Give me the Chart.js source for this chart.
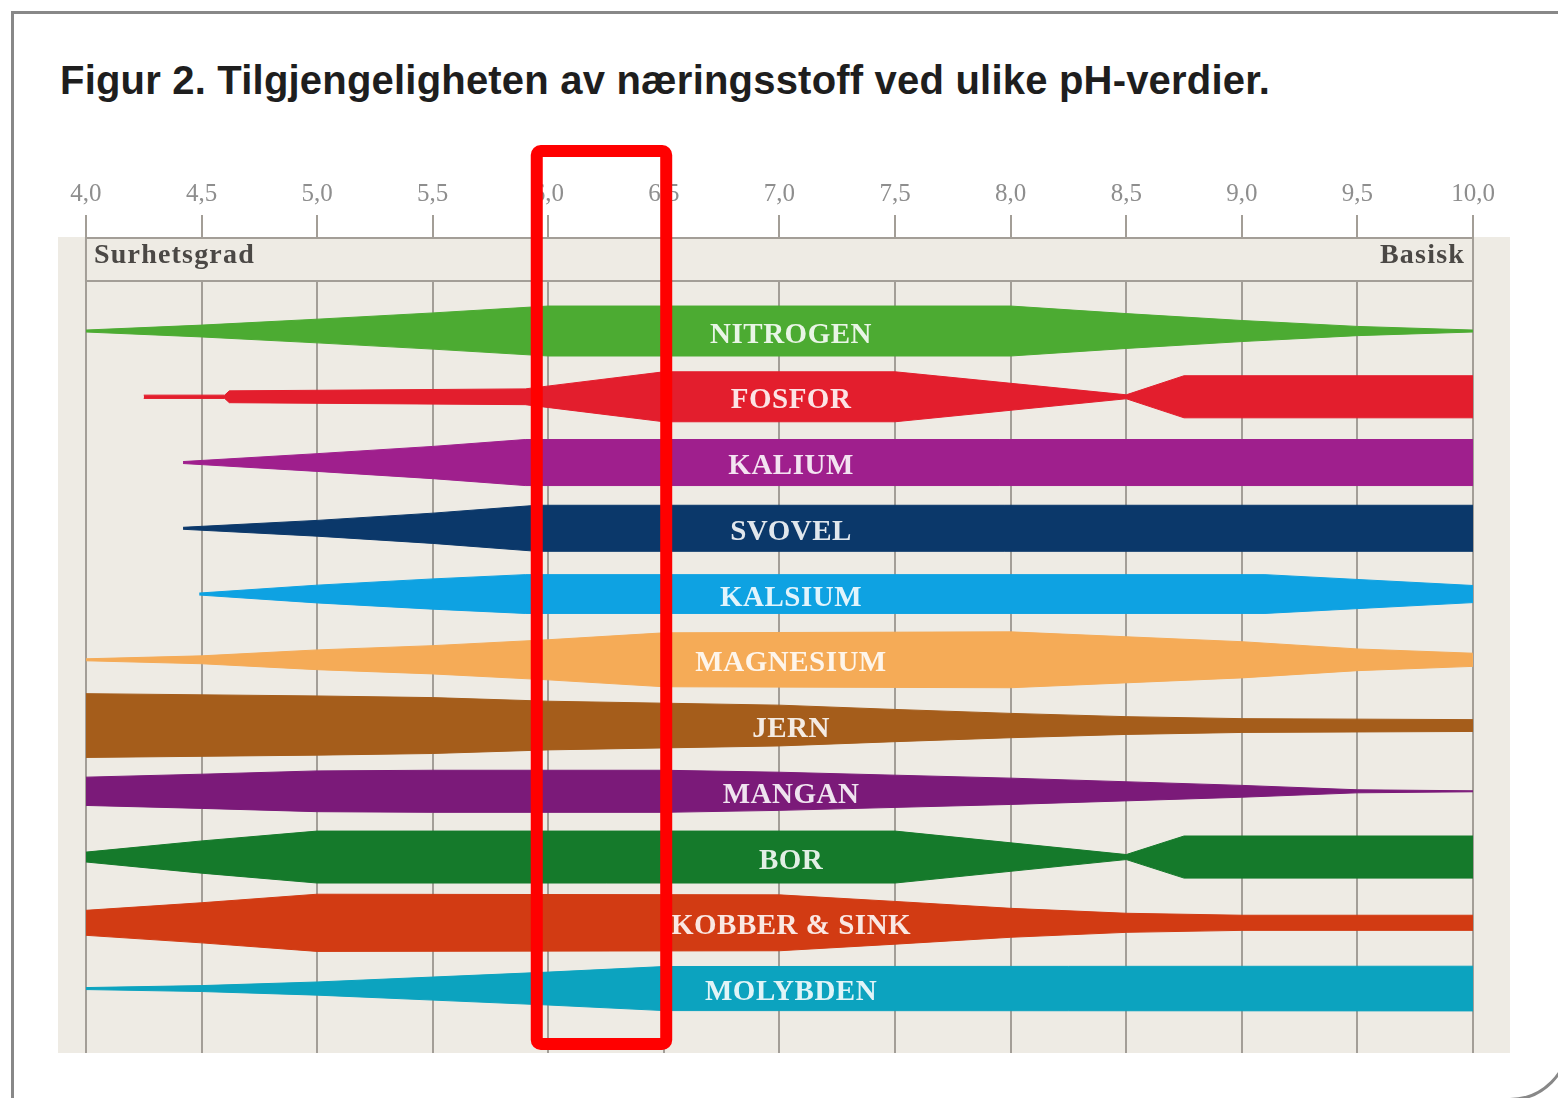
<!DOCTYPE html>
<html lang="no">
<head>
<meta charset="utf-8">
<title>Figur 2 – næringsstoff og pH</title>
<script src="https://cdn.jsdelivr.net/npm/chart.js@4.4.1/dist/chart.umd.min.js"></script>
<style>
  html, body { margin: 0; padding: 0; background: #fff; }
  body { width: 1558px; height: 1098px; position: relative; overflow: hidden; }
  .frame {
    position: absolute; left: 11px; top: 11px; width: 1559px; height: 1090px;
    box-sizing: border-box; border: 3px solid #888; border-radius: 0 0 60px 0;
  }
  .title {
    position: absolute; left: 60px; top: 60px; margin: 0; letter-spacing: 0.2px;
    font: bold 40px/40px 'Liberation Sans', Arial, sans-serif; color: #1e1e1e; white-space: nowrap;
  }
  .chart-box { position: absolute; left: 0; top: 0; width: 1558px; height: 1098px; }
</style>
</head>
<body>
<div class="frame"></div>
<h1 class="title">Figur 2. Tilgjengeligheten av næringsstoff ved ulike pH-verdier.</h1>
<div class="chart-box"><canvas id="phChart"></canvas></div>
<script>
// pH-akse
const phTicks = [4.0, 4.5, 5.0, 5.5, 6.0, 6.5, 7.0, 7.5, 8.0, 8.5, 9.0, 9.5, 10.0];

// næringsstoff, fra topp til bunn
const nutrientNames = ['NITROGEN', 'FOSFOR', 'KALIUM', 'SVOVEL', 'KALSIUM', 'MAGNESIUM',
  'JERN', 'MANGAN', 'BOR', 'KOBBER & SINK', 'MOLYBDEN'];
const nutrientColors = ['#4cab32', '#e31e2d', '#9f1f8d', '#0b386a', '#0ea2e2', '#f5ab57',
  '#a55d1b', '#7b1a79', '#157a2b', '#d23b13', '#0ca3bf'];

// [pH, bredde på båndet] – bredde i radenheter (1 = avstand mellom radene)
const nitrogen   = [[4.0, 0.03], [4.5, 0.18], [5.0, 0.36], [5.5, 0.55], [6.0, 0.76], [8.0, 0.76], [8.5, 0.53], [9.0, 0.32], [9.5, 0.14], [10.0, 0.03]];
const fosfor     = [[4.25, 0.05], [4.6, 0.05], [4.62, 0.18], [5.9, 0.24], [6.5, 0.76], [7.5, 0.76], [8.5, 0.06], [8.75, 0.64], [10.0, 0.64]];
const kalium     = [[4.42, 0.03], [5.0, 0.27], [5.5, 0.49], [5.9, 0.70], [10.0, 0.70]];
const svovel     = [[4.42, 0.03], [5.0, 0.24], [5.5, 0.46], [5.95, 0.70], [10.0, 0.70]];
const kalsium    = [[4.49, 0.03], [5.0, 0.27], [5.5, 0.46], [5.9, 0.59], [9.1, 0.59], [10.0, 0.26]];
const magnesium  = [[4.0, 0.03], [4.5, 0.12], [5.0, 0.30], [5.5, 0.43], [6.0, 0.61], [6.5, 0.82], [8.0, 0.85], [9.0, 0.55], [9.5, 0.33], [10.0, 0.20]];
const jern       = [[4.0, 0.97], [5.0, 0.90], [5.5, 0.85], [6.0, 0.74], [6.5, 0.68], [7.0, 0.62], [7.5, 0.49], [8.0, 0.37], [8.5, 0.27], [9.0, 0.21], [10.0, 0.18]];
const mangan     = [[4.0, 0.43], [4.5, 0.52], [5.0, 0.62], [5.5, 0.64], [6.5, 0.64], [7.0, 0.58], [8.0, 0.40], [9.0, 0.18], [9.5, 0.046], [10.0, 0.015]];
const bor        = [[4.0, 0.15], [4.5, 0.49], [5.0, 0.79], [7.5, 0.79], [8.5, 0.076], [8.75, 0.64], [10.0, 0.64]];
const kobberSink = [[4.0, 0.38], [4.5, 0.61], [5.0, 0.87], [7.0, 0.85], [7.5, 0.65], [8.0, 0.44], [8.5, 0.29], [9.0, 0.23], [10.0, 0.23]];
const molybden   = [[4.0, 0.03], [4.5, 0.09], [5.0, 0.20], [5.5, 0.35], [6.0, 0.50], [6.5, 0.67], [10.0, 0.68]];

const bands = [nitrogen, fosfor, kalium, svovel, kalsium, magnesium, jern, mangan, bor, kobberSink, molybden];

// markert område (rød ramme)
const highlightPH = [5.95, 6.51];
const labelPH = 7.05;

const beige = '#eeebe4';
const gridGrey = '#a39e97';

// hvert bånd = to linjer (over/under) med fyll mellom
const datasets = [];
bands.forEach((band, i) => {
    datasets.push({
        label: nutrientNames[i] + ' (øvre)',
        data: band.map(([ph, w]) => ({ x: ph, y: i - w / 2 })),
        borderColor: nutrientColors[i],
        borderWidth: 1,
        pointRadius: 0,
        tension: 0,
        fill: false
    });
    datasets.push({
        label: nutrientNames[i],
        data: band.map(([ph, w]) => ({ x: ph, y: i + w / 2 })),
        borderColor: nutrientColors[i],
        backgroundColor: nutrientColors[i],
        borderWidth: 1,
        pointRadius: 0,
        tension: 0,
        fill: '-1'
    });
});

const paperPlugin = {
    id: 'paper',
    beforeDraw(chart) {
        const { ctx, chartArea: a } = chart;
        ctx.save();
        ctx.fillStyle = beige;
        ctx.fillRect(a.left, a.top, a.right - a.left, a.bottom - a.top);
        ctx.restore();
    }
};

const headerPlugin = {
    id: 'header',
    beforeDatasetsDraw(chart) {
        const { ctx, chartArea: a } = chart;
        const x = chart.scales.x;
        const left = x.getPixelForValue(phTicks[0]);
        const right = x.getPixelForValue(phTicks[phTicks.length - 1]);
        const top = a.top, h = 44;
        ctx.save();
        ctx.fillStyle = beige;
        ctx.fillRect(left, top, right - left, h);
        ctx.strokeStyle = gridGrey;
        ctx.lineWidth = 2;
        ctx.strokeRect(left, top + 1, right - left, h - 1);
        ctx.fillStyle = '#4b4845';
        ctx.font = 'bold 28px "Liberation Serif", serif';
        ctx.letterSpacing = '1.2px';
        ctx.textBaseline = 'middle';
        ctx.textAlign = 'left';
        ctx.fillText('Surhetsgrad', left + 8, top + 19);
        ctx.textAlign = 'right';
        ctx.fillText('Basisk', right - 8, top + 19);
        ctx.restore();
    }
};

const bandLabelPlugin = {
    id: 'bandLabels',
    afterDatasetsDraw(chart) {
        const { ctx } = chart;
        const x = chart.scales.x, y = chart.scales.y;
        ctx.save();
        ctx.font = 'bold 29px "Liberation Serif", serif';
        ctx.letterSpacing = '0.5px';
        ctx.fillStyle = 'rgba(255,255,255,0.88)';
        ctx.textAlign = 'center';
        ctx.textBaseline = 'middle';
        nutrientNames.forEach((name, i) => {
            ctx.fillText(name, x.getPixelForValue(labelPH), y.getPixelForValue(i) + 4);
        });
        ctx.restore();
    }
};

const highlightPlugin = {
    id: 'highlight',
    afterDraw(chart) {
        const { ctx, chartArea: a } = chart;
        const x = chart.scales.x;
        const l = x.getPixelForValue(highlightPH[0]);
        const r = x.getPixelForValue(highlightPH[1]);
        const t = a.top - 86, b = a.bottom - 9;
        ctx.save();
        ctx.strokeStyle = '#ff0000';
        ctx.lineWidth = 12;
        ctx.lineJoin = 'round';
        ctx.beginPath();
        if (ctx.roundRect) ctx.roundRect(l, t, r - l, b - t, 4);
        else ctx.rect(l, t, r - l, b - t);
        ctx.stroke();
        ctx.restore();
    }
};

new Chart(document.getElementById('phChart'), {
    type: 'line',
    data: { datasets: datasets },
    options: {
        responsive: true,
        maintainAspectRatio: false,
        animation: false,
        layout: { padding: { left: 58, right: 48, top: 120, bottom: 45 } },
        plugins: {
            legend: { display: false },
            tooltip: { enabled: false }
        },
        scales: {
            x: {
                type: 'linear',
                position: 'top',
                min: 3.879,
                max: 10.16,
                afterBuildTicks: (scale) => { scale.ticks = phTicks.map(v => ({ value: v })); },
                afterFit: (scale) => { scale.height = 117; },
                ticks: {
                    autoSkip: false,
                    maxRotation: 0,
                    padding: 6,
                    color: '#8e8e8e',
                    font: { family: 'Liberation Serif', size: 25 },
                    callback: (v) => Number(v).toFixed(1).replace('.', ',')
                },
                grid: { color: gridGrey, lineWidth: 2, tickLength: 22, drawTicks: true },
                border: { display: false }
            },
            y: {
                type: 'linear',
                display: false,
                reverse: true,
                min: -1.43,
                max: 10.98
            }
        }
    },
    plugins: [paperPlugin, headerPlugin, bandLabelPlugin, highlightPlugin]
});
</script>
</body>
</html>
